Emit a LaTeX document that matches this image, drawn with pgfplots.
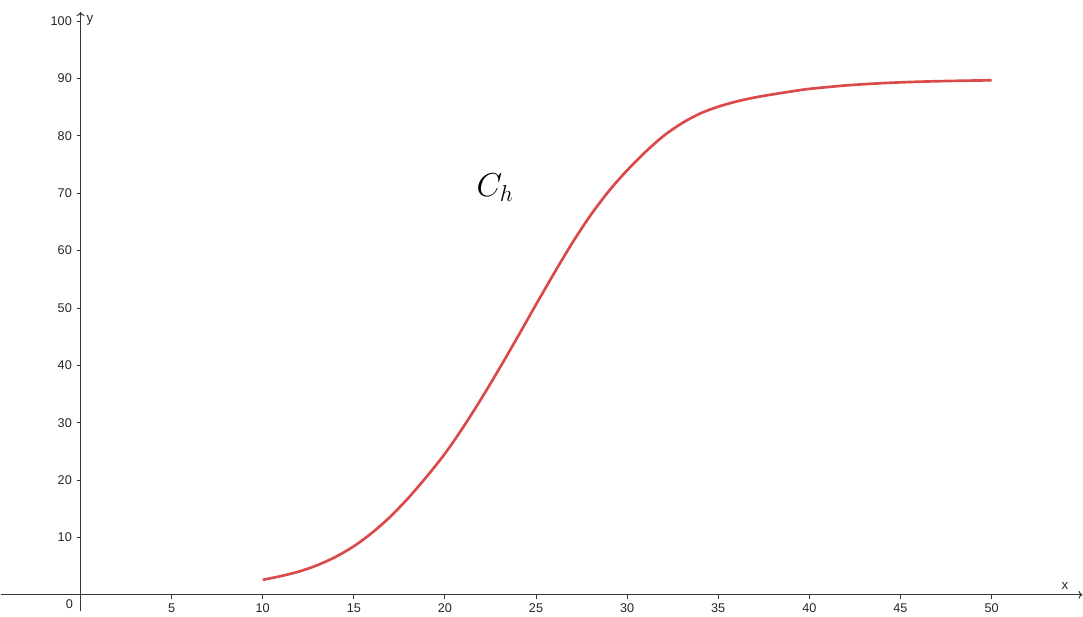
\documentclass[border=0pt]{standalone}
\usepackage{fontspec}
\setmainfont{Liberation Sans}
\usepackage{pgfplots}
\pgfplotsset{compat=1.18}
\usetikzlibrary{arrows.meta}
\definecolor{ggred}{RGB}{218,74,74}
\definecolor{axisgray}{RGB}{55,55,55}

\begin{document}
\begin{tikzpicture}
\begin{axis}[
  scale only axis,
  width=812.25pt, height=449.5pt,
  xmin=-4.39, xmax=54.99,
  ymin=-2.8, ymax=101.6,
  axis lines=middle,
  axis line style={axisgray, line width=0.8pt, -{To[length=3pt,width=6pt]}},
  xtick={5,10,...,50},
  ytick={10,20,...,100},
  tick align=outside,
  major tick length=3pt,
  tick style={axisgray, line width=0.7pt},
  ticklabel style={font=\fontsize{9.5}{11}\selectfont, text=black!85},
  /pgf/number format/assume math mode=true,
  clip=false,
]
\addplot[ggred, line width=2pt, smooth] coordinates {
  (10,2.6) (11,3.25) (12,4.05) (13,5.15) (14,6.6) (15,8.45) (16,10.8)
  (17,13.6) (18,16.9) (19,20.6) (20,24.6) (21,29.2) (22,34.2)
  (23,39.5) (24,45.0) (25,50.6) (26,56.1) (27,61.4) (28,66.2)
  (29,70.4) (30,74.0) (31,77.2) (32,80.0) (33,82.2) (34,83.9)
  (35,85.1) (36,86.0) (37,86.7) (38,87.25) (39,87.75) (40,88.2)
  (42,88.8) (44,89.2) (46,89.45) (48,89.6) (50,89.7)
};
\path (axis cs:-4.39,-2.8) rectangle (axis cs:54.99,103.7);
\node[anchor=north east, font=\fontsize{9.5}{11}\selectfont, text=black!85, inner sep=2pt] at (axis cs:-0.25,-0.4) {0};
\node[anchor=north west, font=\fontsize{10}{11}\selectfont, text=black!85, inner sep=1pt] at (axis cs:0.25,101.2) {y};
\node[anchor=south east, font=\fontsize{10}{11}\selectfont, text=black!85, inner sep=1pt] at (axis cs:54.3,0.6) {x};
\node[font=\fontsize{24}{26}\selectfont] at (axis cs:22.75,71) {$C_h$};
\end{axis}
\end{tikzpicture}
\end{document}
